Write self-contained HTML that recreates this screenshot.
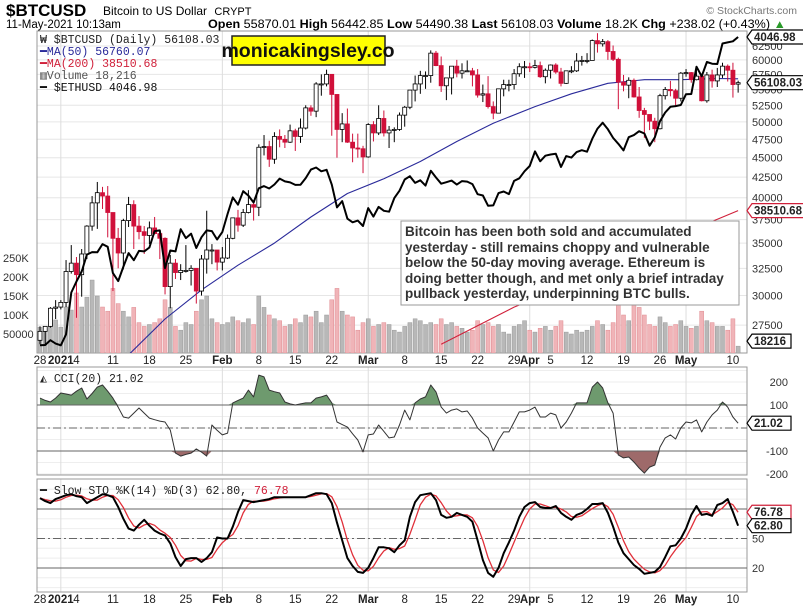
<!DOCTYPE html>
<html><head><meta charset="utf-8"><style>
body{margin:0;background:#fff;}
svg{display:block;font-family:"Liberation Sans",sans-serif;}
.mono{font-family:"Liberation Mono",monospace;}
</style></head><body>
<svg id="chart" width="803" height="611" viewBox="0 0 803 611" xmlns="http://www.w3.org/2000/svg">
<defs>
<clipPath id="mainClip"><rect x="37" y="31" width="710" height="322"/></clipPath>
<clipPath id="cciClip"><rect x="37" y="367" width="710" height="108"/></clipPath>
<clipPath id="stoClip"><rect x="37" y="479" width="710" height="113"/></clipPath>
</defs>
<rect width="803" height="611" fill="#fff"/>
<g>
<text x="6" y="16" font-size="17" font-weight="bold">$BTCUSD</text>
<text x="103" y="15" font-size="12">Bitcoin to US Dollar <tspan font-size="11" dx="4">CRYPT</tspan></text>
<text x="797" y="14" font-size="10.5" fill="#777" text-anchor="end">© StockCharts.com</text>
<text x="6" y="28" font-size="11.5">11-May-2021 10:13am</text>
<text x="208" y="28" font-size="11.5" textLength="578" lengthAdjust="spacingAndGlyphs"><tspan font-weight="bold">Open</tspan> 55870.01 <tspan font-weight="bold">High</tspan> 56442.85 <tspan font-weight="bold">Low</tspan> 54490.38 <tspan font-weight="bold">Last</tspan> 56108.03 <tspan font-weight="bold">Volume</tspan> 18.2K <tspan font-weight="bold">Chg</tspan> +238.02 (+0.43%) <tspan fill="#2a9a2a">▲</tspan></text>
</g>
<g id="grid"></g>
<g id="panels"></g>
<g id="vol" clip-path="url(#mainClip)"></g>
<g id="main" clip-path="url(#mainClip)"></g>
<g id="cci" clip-path="url(#cciClip)"></g>
<g id="sto" clip-path="url(#stoClip)"></g>
<g id="axes"></g>
<g class="mono" font-size="11.5">
<text x="40" y="43" fill="#222">₩ $BTCUSD (Daily) 56108.03</text>
<text x="40" y="55" fill="#2a2a9a">━MA(50) 56760.07</text>
<text x="40" y="67" fill="#d0203a">━MA(200) 38510.68</text>
<text x="40" y="79" fill="#555">▥Volume 18,216</text>
<text x="40" y="91" fill="#111">━ $ETHUSD 4046.98</text>
</g>
<g>
<rect x="232" y="36" width="153" height="29" fill="#ffff00" stroke="#222" stroke-width="1.5"/>
<text x="308" y="57" font-size="19.5" font-weight="bold" text-anchor="middle" fill="#111">monicakingsley.co</text>
</g>
<g>
<rect x="401" y="221" width="338" height="84" fill="#fff" stroke="#999" stroke-width="1"/>
<text font-size="13.5" font-weight="bold" fill="#333">
<tspan x="405" y="236">Bitcoin has been both sold and accumulated</tspan>
<tspan x="405" y="252">yesterday - still remains choppy and vulnerable</tspan>
<tspan x="405" y="267">below the 50-day moving average. Ethereum is</tspan>
<tspan x="405" y="283">doing better though, and met only a brief intraday</tspan>
<tspan x="405" y="298">pullback yesterday, underpinning BTC bulls.</tspan>
</text>
</g>
<text x="40" y="382" class="mono" font-size="11.5" fill="#222">◭ CCI(20) 21.02</text>
<text x="40" y="494" class="mono" font-size="11.5" fill="#222">━ Slow STO %K(14) %D(3) 62.80, <tspan fill="#d0203a">76.78</tspan></text>
</svg>
<script>
const closes=[27000,27400,28900,29000,
29400,32200,33000,31900,33900,36800,39400,40600,40200,38300,35500,34000,37400,39200,36800,36200,35800,36600,36000,35500,30800,33000,32100,32300,32300,32500,30400,33400,34300,34300,33100,
33500,35500,37700,36900,38300,39200,38900,46400,46500,44800,47900,47500,47100,48700,47900,49100,52100,51600,55900,55900,57500,54200,48900,49700,47100,46300,46200,45100,
49600,48400,50500,48400,48800,48900,51000,52200,54900,55900,57300,57300,61200,59000,55600,56900,58900,57700,58100,58100,57400,54100,54300,52300,51300,55100,55800,55800,57600,58800,58800,
58700,59000,57100,58200,59100,57900,56000,58100,58100,59800,59900,59900,63500,62900,63300,61500,60100,56200,55700,56500,53800,51700,51100,50100,49000,54000,55000,54800,53600,57700,
57800,56600,57200,53200,57400,56400,57400,58900,58200,55800,56108];
const opens=[26300,27000,27400,28900,
29000,29400,32200,33000,31900,33900,36800,39400,40600,40200,38300,35500,34000,37400,39200,36800,36200,35800,36600,36000,35500,30800,33000,32100,32300,32300,32500,30400,33400,34300,34300,
33100,33500,35500,37700,36900,38300,39200,38900,46400,46500,44800,47900,47500,47100,48700,47900,49100,52100,51600,55900,55900,57500,54200,48900,49700,47100,46300,46200,
45100,49600,48400,50500,48400,48800,48900,51000,52200,54900,55900,57300,57300,61200,59000,55600,56900,58900,57700,58100,58100,57400,54100,54300,52300,51300,55100,55800,55800,57600,58800,
58800,58700,59000,57100,58200,59100,57900,56000,58100,58100,59800,59900,59900,63500,62900,63300,61500,60100,56200,55700,56500,53800,51700,51100,50100,49000,54000,55000,54800,53600,
57700,57800,56600,57200,53200,57400,56400,57400,58900,58200,55870];
const highs=[27400,27400,29000,29600,
29600,33300,34800,33600,34400,36900,40200,41900,41300,41400,38300,36600,37600,40100,39700,37900,36800,37300,37800,36400,35600,33800,33400,32900,34800,32800,32500,33800,38500,34900,34300,
34600,35900,37700,38600,38700,40900,39700,46800,48100,47300,48500,48900,48100,49600,49000,50500,52500,52500,56200,57500,58300,57500,54200,51300,52000,48300,48300,46600,
49800,50100,52500,51700,49400,49200,51400,52400,54900,57300,58100,58000,61700,61600,60600,56900,58900,60000,59400,59900,58600,58400,55800,57200,53100,55100,56600,56600,58400,59400,59800,
59500,60000,59700,58500,59200,59400,58600,58100,58900,61200,60700,61200,63700,64900,63800,63600,62600,60400,57400,57000,56800,55400,52100,51100,50600,54300,55400,56400,55100,57900,
58400,57900,58900,57200,57900,58300,58600,59500,59200,59500,56443];
const lows=[26000,25900,27300,28000,
28800,29000,32000,28100,29900,33400,36300,36500,38700,35600,30400,32500,32400,36700,34400,35400,33900,34900,35900,33400,30100,28900,31500,31400,32100,30900,29300,30000,32000,32900,32300,
32300,33400,35400,36200,36700,38200,37400,37900,45300,43800,44200,46400,46300,47000,45900,47000,48900,50900,50700,54000,55500,48000,45000,47100,47000,44400,45000,43000,
45000,47200,48100,47900,46300,47100,48700,49300,51900,53100,54300,55100,56100,58900,54600,53300,54200,57000,56800,57900,55500,53700,53000,52000,50400,51300,53900,54700,55000,57100,56900,
57900,58500,56900,56000,56800,57600,55500,55900,57700,57900,59000,59400,59900,61300,62400,60000,59800,51900,54700,53600,53700,50600,47700,48800,47100,48900,53400,53900,52400,53100,
57100,56100,56500,53100,52900,55300,55400,56900,56300,53700,54490];
const volumes=[68,60,79,87,
68,121,113,158,121,147,192,150,121,110,170,130,110,95,120,80,70,75,80,90,140,120,70,60,80,75,110,140,150,90,80,
75,80,95,85,80,90,75,150,120,100,90,85,70,75,90,80,100,95,110,80,100,140,170,110,100,95,60,80,
90,70,75,80,75,60,55,70,80,90,85,75,80,75,90,75,80,70,65,55,60,85,75,80,70,75,55,50,70,75,85,
60,55,65,70,60,70,85,55,50,60,55,60,70,85,75,60,80,150,100,85,130,120,100,75,70,95,80,70,75,85,
70,65,70,110,85,80,70,70,60,90,18];
const ethCloses=[730,731,751,737,
730,775,979,1041,1100,1208,1225,1224,1281,1262,1090,1043,1130,1218,1171,1233,1230,1257,1377,1382,1121,1236,1230,1391,1324,1357,1253,1331,1382,1377,1314,
1369,1515,1660,1594,1718,1677,1614,1746,1768,1744,1783,1843,1814,1804,1779,1781,1848,1937,1960,1919,1935,1781,1570,1626,1475,1446,1459,1416,
1564,1492,1575,1541,1533,1654,1723,1834,1868,1799,1826,1773,1924,1854,1791,1806,1822,1782,1817,1812,1787,1690,1678,1584,1588,1700,1715,1691,1819,1846,1919,
1977,2143,2029,2093,2107,2115,1965,2088,2071,2135,2158,2140,2300,2433,2514,2423,2311,2236,2155,2319,2346,2398,2367,2213,2317,2535,2660,2746,2757,2774,
2945,2949,3431,3253,3522,3490,3484,3903,3928,3952,4047];
const ma50Days=[17,24,31,38,45,52,59,66,73,80,87,95,102,109,116,123,130,134];
const ma50Values=[25200,28000,30500,32800,35000,37800,40500,42300,44500,47200,49800,52300,54300,56000,56600,56600,56800,56760];
const ma200Days=[77,91,106,119,134];
const ma200Values=[26000,29000,31800,35000,38510];
const cciValues=[130,120,113,130,152,148,143,160,174,126,150,178,187,160,130,90,48,43,65,87,65,43,36,30,26,-9,-109,-122,-115,-109,-91,-105,-122,13,-10,
-30,-22,109,120,130,165,135,230,222,165,158,152,113,105,100,105,109,109,130,135,143,109,26,15,4,-25,-52,-104,
-30,-26,13,-15,-43,-39,13,78,35,109,126,135,187,157,91,65,78,83,70,74,43,0,-22,-43,-100,-52,-17,-17,26,70,70,
78,91,48,48,65,57,0,26,65,109,109,109,178,200,174,109,65,-117,-130,-126,-148,-174,-196,-170,-161,-83,-43,-30,-48,0,
26,22,35,-17,26,57,78,113,91,48,21];
const stoK=[91,88,86,90,92,94,95,93,92,86,89,92,95,94,92,82,70,60,58,64,69,63,58,55,53,45,31,22,29,30,30,26,30,36,51,
50,50,62,77,89,88,87,88,89,90,92,92,92,92,92,92,92,94,96,96,95,86,66,48,30,22,16,15,
20,30,41,41,40,36,43,48,72,87,94,95,96,89,74,71,72,76,74,72,67,48,28,15,11,20,35,46,58,72,82,
86,87,82,81,81,83,76,72,69,74,76,80,85,85,86,76,62,46,35,29,23,19,14,15,16,21,31,42,43,50,
60,74,83,74,75,73,84,86,90,77,63];
const priceTicks=[62500,60000,57500,55000,52500,50000,47500,45000,42500,40000,37500,35000,32500,30000,27500];
const volTicks=[250,200,150,100,50];
const volTickLabels=["250K","200K","150K","100K","50000"];
const cciTicks=[200,100,-100,-200];
const stoTicks=[80,50,20];
const dateLabels=["28","2021","4","11","18","25","Feb","8","15","22","Mar","8","15","22","29","Apr","5","12","19","26","May","10"];
const dateLabelDays=[0,4,7,14,21,28,35,42,49,56,63,70,77,84,91,94,98,105,112,119,124,133];
const monthStartDays=[4,35,63,94,124];

const NS="http://www.w3.org/2000/svg";
const X=i=>40+i*5.21;
const PY=p=>46+(Math.log(62500)-Math.log(p))*340;
const EY=v=>37+(Math.log(4047)-Math.log(v))*180;
const VY=v=>353-v*0.38;
const CY=v=>428-v*0.23;
const SY=v=>587.6-v*0.983;
function mk(tag,attrs,parent){const e=document.createElementNS(NS,tag);for(const k in attrs)e.setAttribute(k,attrs[k]);parent.appendChild(e);return e;}
const grid=document.getElementById('grid'),panels=document.getElementById('panels'),axes=document.getElementById('axes');
const main=document.getElementById('main'),vol=document.getElementById('vol'),cci=document.getElementById('cci'),sto=document.getElementById('sto');

// panel frames
[[37,31,710,322],[37,367,710,108],[37,479,710,113]].forEach((r,i)=>{
  const e=mk('rect',{x:r[0],y:r[1],width:r[2],height:r[3],fill:'none',stroke:'#999','stroke-width':1},panels);
  
  
});
// horizontal grid price
priceTicks.forEach(p=>{
  const y=PY(p);
  const l=mk('line',{x1:37,x2:747,y1:y,y2:y,stroke:'#e6e6e6'},grid);
  
  
  const t=mk('text',{x:752,y:y+4,'font-size':11,fill:'#333'},axes);
  t.textContent=p;
  
  
});
// minor grid lines lower panels
for(let v=-250;v<=250;v+=50){const y=CY(v);if(y>367&&y<475){const l=mk('line',{x1:37,x2:747,y1:y,y2:y,stroke:'#eeeeee'},grid);}}
for(let v=0;v<=100;v+=10){const y=SY(v);if(y>479&&y<592){const l=mk('line',{x1:37,x2:747,y1:y,y2:y,stroke:'#eeeeee'},grid);}}
// vertical month lines
monthStartDays.forEach(d=>{
  [[31,353],[367,475],[479,592]].forEach(r=>{
    const l=mk('line',{x1:X(d),x2:X(d),y1:r[0],y2:r[1],stroke:'#dddddd'},grid);
    
    
  });
});
// volume ticks
volTicks.forEach((v,i)=>{
  const t=mk('text',{x:3,y:VY(v)+4,'font-size':11,fill:'#333'},axes);
  t.textContent=volTickLabels[i];
  
  
});
// volume bars
volumes.forEach((v,i)=>{
  const down=closes[i]<(i>0?closes[i-1]:opens[i]);
  const r=mk('rect',{x:X(i)-2,y:VY(v),width:4,height:353-VY(v),fill:down?'#f0b4b8':'#b8b8b8',stroke:down?'#e08c92':'#999','stroke-width':0.5},vol);
  
  
});
function poly(days,vals,fy,parent,color,w,name){
  const pts=vals.map((v,i)=>X(days?days[i]:i).toFixed(1)+','+fy(v).toFixed(1)).join(' ');
  const p=mk('polyline',{points:pts,fill:'none',stroke:color,'stroke-width':w,'stroke-linejoin':'round'},parent);
  
  
  return p;
}
// MAs
poly(ma50Days,ma50Values,PY,main,'#2a2a9a',1.1,'ma50-line');
poly(ma200Days,ma200Values,PY,main,'#d0203a',1.1,'ma200-line');
// candles
closes.forEach((c,i)=>{
  const o=opens[i],h=highs[i],l=lows[i];
  const down=c<o;
  const col=down?'#d0103a':'#000';
  const x=X(i);
  const w=mk('line',{x1:x,x2:x,y1:PY(h),y2:PY(l),stroke:col,'stroke-width':1},main);
  
  
  const top=PY(Math.max(o,c)),bot=PY(Math.min(o,c));
  const b=mk('rect',{x:x-2,y:top,width:4,height:Math.max(1,bot-top),fill:down?'#d0103a':'#fff',stroke:col,'stroke-width':0.8},main);
  
  
});
// ETH line
poly(null,ethCloses,EY,main,'#000',2,'eth-line');
// CCI
const cciY=cciValues.map(CY);
function fillArea(th,above,color,name){
  let d='';
  for(let i=0;i<cciValues.length-1;i++){
    const a=cciValues[i],b=cciValues[i+1];
    const ca=above?Math.max(a,th):Math.min(a,th),cb=above?Math.max(b,th):Math.min(b,th);
    d+=`M${X(i)},${CY(th)}L${X(i)},${CY(ca)}L${X(i+1)},${CY(cb)}L${X(i+1)},${CY(th)}Z`;
  }
  const p=mk('path',{d:d,fill:color,stroke:'none'},cci);
  
  
}
fillArea(100,true,'#6e9a6e','cci-overbought-fill');
fillArea(-100,false,'#9e6a6a','cci-oversold-fill');
cciTicks.forEach(v=>{
  if(Math.abs(v)===100){const l=mk('line',{x1:37,x2:747,y1:CY(v),y2:CY(v),stroke:'#666','stroke-width':1},cci);}
  const t=mk('text',{x:788,y:CY(v)+4,'font-size':11,fill:'#333','text-anchor':'end'},axes);
  t.textContent=v;
  
  
});
{const l=mk('line',{x1:37,x2:747,y1:CY(0),y2:CY(0),stroke:'#666','stroke-dasharray':'8,3,2,3'},cci);}
poly(null,cciValues,CY,cci,'#333',1,'cci-line');
// STO
stoTicks.forEach(v=>{
  const l=mk('line',{x1:37,x2:747,y1:SY(v),y2:SY(v),stroke:'#666','stroke-dasharray':v===50?'8,3,2,3':''},sto);
  
  
  const t=mk('text',{x:752,y:SY(v)+4,'font-size':11,fill:'#333'},axes);
  t.textContent=v;
  
  
});
const stoD=stoK.map((v,i)=>{const s=stoK.slice(Math.max(0,i-2),i+1);return s.reduce((a,b)=>a+b,0)/s.length;});
poly(null,stoD,SY,sto,'#e0303a',1.3,'sto-d-line');
poly(null,stoK,SY,sto,'#000',2,'sto-k-line');
// date labels (two rows)
[364,603].forEach(y=>{
  dateLabels.forEach((s,i)=>{
    const bold=isNaN(+s)||s==="2021";
    const t=mk('text',{x:X(dateLabelDays[i]),y:y,'font-size':11.5,fill:'#222','text-anchor':'middle','font-weight':bold?'bold':'normal'},axes);
    t.textContent=s;
    
    
  });
});
// value tag boxes
function tag(y,txt,color,name){
  const g=mk('g',{},axes);
  
  
  const w=txt.length*6.6+6;
  mk('path',{d:`M747,${y} L752,${y-7} L${752+w},${y-7} L${752+w},${y+7} L752,${y+7} Z`,fill:'#fff',stroke:color,'stroke-width':1.2},g);
  const t=mk('text',{x:754,y:y+4,'font-size':11.5,'font-weight':'bold',fill:'#222'},g);
  t.textContent=txt;
}
tag(EY(ethCloses[ethCloses.length-1]),'4046.98','#000','eth-last-tag');
tag(PY(closes[closes.length-1]),'56108.03','#000','btc-last-tag');
tag(PY(ma200Values[ma200Values.length-1]),'38510.68','#d0203a','ma200-tag');
tag(VY(volumes[volumes.length-1])-5,'18216','#000','volume-tag');
tag(CY(cciValues[cciValues.length-1]),'21.02','#000','cci-tag');
tag(SY(stoD[stoD.length-1]),'76.78','#d0203a','sto-d-tag');
tag(SY(stoK[stoK.length-1]),'62.80','#000','sto-k-tag');
</script>
</body></html>
